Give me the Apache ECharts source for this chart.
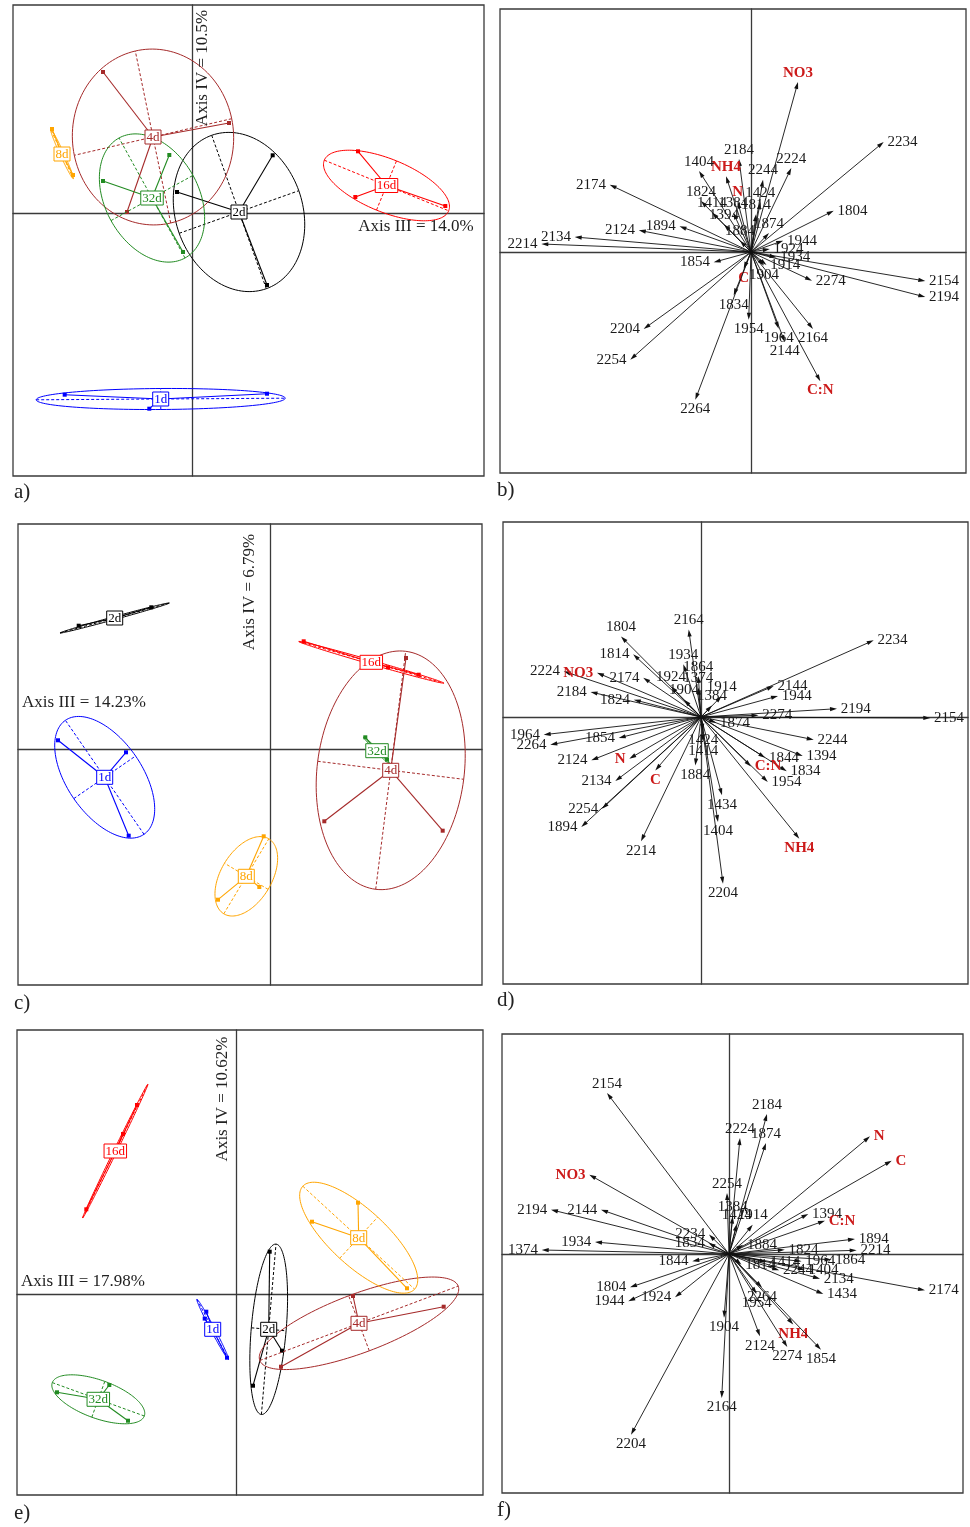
<!DOCTYPE html>
<html><head><meta charset="utf-8">
<script src="https://cdn.jsdelivr.net/npm/echarts@6/dist/echarts.min.js"></script>
<style>html,body{margin:0;padding:0;background:#fff}#c{width:970px;height:1527px}</style>
</head><body><div id="c"></div>
<script>
const FONT = '"Liberation Serif","Times New Roman","DejaVu Serif",serif';
const GROUPS = ['1d','2d','4d','8d','16d','32d'];
const GROUP_COLORS = ['#0000ff','#000000','#a52a2a','#ffa500','#ff0000','#228b22'];
const VARS = ['NO3','NH4','N','C','C:N'];

// ---------- panel a (groups: 1d,2d,4d,8d,16d,32d) ----------
const a_center = [[-31.3,-186],[47,1],[-39,76],[-130,59],[194.5,27.5],[-40,15]];
const a_points = [
  [[-127.3,-181.7],[75,-180.7],[-42.7,-195.7]],
  [[80.7,57.7],[-15,21],[75,-72]],
  [[-89,141],[37,90],[-65,1]],
  [[-140,84],[-131,60],[-119,38]],
  [[166,61.7],[163.3,16],[253.3,7]],
  [[-22.7,58],[-89,32],[-9,-39]]
];
const a_axisA = [[124.5,0.8],[-27.3,76.7],[-17.7,86],[-11.3,24.7],[62.2,-25.3],[-33,60]];
const a_axisB = [[-0.1,10.5],[59.8,21.3],[-78.7,-18.3],[1.8,0.8],[10,24.6],[41,22.6]];

// ---------- panel c ----------
const c_center = [[-165.3,-28.3],[-155.3,131],[120.7,-21.3],[-23.7,-127.3],[101.3,86.7],[107,-1.7]];
const c_points = [
  [[-212,8.7],[-144,-3.3],[-141.3,-86.7]],
  [[-191.3,123.3],[-118.7,141.7],[-158,130]],
  [[136,91],[54.3,-72.3],[172.7,-81.7]],
  [[-6.3,-87.3],[-52,-150.7],[-10.7,-138]],
  [[33.7,107.7],[118,81.7],[148.7,74.3]],
  [[95.3,11.7],[117,-10.7],[109,-4]]
];
const c_axisA = [[-39.3,57],[54.7,15],[15,119],[22.5,37.5],[72.5,-20.8],[13.3,-13.7]];
const c_axisB = [[30.9,21.3],[-0.4,1.4],[73,-9],[-21.8,13.1],[0.55,1.9],[1,1]];

// ---------- panel e ----------
const e_center = [[-23.3,-35.3],[32.7,-35.3],[123,-29.3],[122.7,56.3],[-120.7,143],[-137.7,-105.3]];
const e_points = [
  [[-29.7,-17.7],[-9,-63.7],[-31.3,-24.6]],
  [[33.7,42.3],[46,-56.7],[17,-91.7]],
  [[117,-2],[207.7,-12.7],[45,-72.7]],
  [[122,91.3],[76,72.3],[171,5.7]],
  [[-149.7,84.7],[-113,160],[-99,189]],
  [[-179,-98.3],[-126.7,-91],[-108,-126.7]]
];
const e_axisA = [[15.8,-30],[7.3,85.2],[99.2,37.2],[55.9,-51.5],[32.7,67],[46,-16.7]];
const e_axisB = [[1.8,0.9],[17.4,-1.5],[-10.3,27.5],[19,20.6],[-1.4,0.7],[6.5,17.9]];

// ---------- panel b arrows ----------
const b_names = ['NO3','2234','2224','2244','2184','NH4','1404','2174','1824','N','1424','1414','1394','1384','1814','1874','1884','1804','1944','1924','1934','1914','1904','2274','2154','2194','2164','C:N','2144','1964','1954','1834','C','1854','2204','2254','2264','2214','2134','2124','1894'];
const b_tips = [[47,170],[132.7,110],[40.3,84],[12,72.3],[-12,93],[-25,75.7],[-52,81],[-141.3,67.3],[-50,51],[-13.3,50.4],[9.3,49.7],[-39,39.5],[-27,27.5],[-17.7,39.4],[5,37.7],[18,19],[-11,11.2],[82.7,41.3],[32.2,11.3],[18.8,3],[25.5,-5.3],[15.5,-13],[13,-13.5],[61,-28.7],[174.3,-29],[174.3,-45],[62,-77],[69.3,-129.3],[33.7,-90],[27.7,-76.7],[-2.3,-67.7],[-17.3,-43.4],[-7.3,-16.7],[-37.3,-10.3],[-107.3,-77],[-120.7,-107.7],[-55.7,-147.7],[-209.7,8],[-176.3,15],[-112.2,21.7],[-71.5,25.7]];

// ---------- panel d arrows ----------
const d_names = ['2234','2154','2194','2144','1944','2274','1874','2244','1394','1844','1834','1954','C:N','NH4','1434','1404','2204','1424','1414','1884','2214','C','N','2134','2254','1894','2124','1854','2264','1964','1824','2184','2174','2224','NO3','1814','1804','2164','1934','1864','1924','1374','1904','1914','1384'];
const d_tips = [[172.7,76.7],[229.3,-1],[136,8.3],[72.7,31],[77,21],[57.5,1.7],[15.2,-5.7],[112.7,-22.7],[101.7,-39],[64.2,-40.7],[85.8,-54.3],[66.8,-65],[50,-49.5],[98.3,-121.7],[21,-78.3],[17,-105],[22,-166.7],[2.3,-13.7],[2.3,-24.7],[-5.7,-48.4],[-60,-124.3],[-45.7,-53.4],[-71.7,-41.7],[-85.7,-64],[-99,-91.7],[-119.7,-110],[-109.7,-43.3],[-82.3,-21],[-150.7,-27.7],[-157.3,-17.7],[-67.2,17.3],[-110.5,25],[-57.8,39.3],[-137.3,45.7],[-104,44.3],[-67.8,62.7],[-80,80.5],[-12.3,87.4],[-17.7,52.7],[-2.7,41],[-30,30.5],[-2.7,29.4],[-17,17.3],[20.7,21],[11,11.5]];

// ---------- panel f arrows ----------
const f_names = ['2154','2184','2224','1874','N','C','NO3','2194','2144','1374','1934','2234','1834','2254','1384','1424','1914','1394','C:N','1894','2214','1884','1824','1864','1964','1414','1814','2244','1404','2134','1434','2174','2264','1954','NH4','1854','2274','2124','1904','2164','2204','1924','1944','1804','1844'];
const f_tips = [[-122,161],[38,140],[11,116],[37,111],[141,117.7],[162.7,93.3],[-139.7,79.3],[-178,44.3],[-128,44.3],[-187.3,4],[-134,12],[-20,19.5],[-20.5,11],[-2,61],[3.7,37.4],[7.7,30],[23.7,29.3],[79.3,40],[96,33.3],[126,15],[127.7,3.7],[14.2,9.3],[55.8,4.3],[102.5,-5.7],[72.5,-7.3],[37.5,-8],[12.5,-10.7],[50.2,-16.3],[75.8,-15.7],[91,-24.7],[94.3,-40],[196,-36.3],[33,-33.5],[27.7,-39.7],[64.3,-70.4],[92,-95.7],[58.3,-93],[31,-82.3],[-5,-63.7],[-7.3,-144],[-98,-180.7],[-54,-43.3],[-100.7,-47.3],[-99,-33.3],[-36.7,-7.3]];

// ---------- axis titles and panel letters ----------
const PANEL_LETTERS = ['a)','b)','c)','d)','e)','f)'];
const AXIS_III = ['Axis III = 14.0%','Axis III = 14.23%','Axis III = 17.98%'];
const AXIS_IV = ['Axis IV = 10.5%','Axis IV = 6.79%','Axis IV = 10.62%'];

// layout: grid boxes (pixels) and data ranges
const LAYOUT = [
  {left:13, top:5,   w:471, h:471, xmin:-179, xmax:292, ymin:-263, ymax:208},
  {left:500,top:9,   w:466, h:464, xmin:-251, xmax:215, ymin:-221, ymax:243},
  {left:18, top:524, w:464, h:461, xmin:-252, xmax:212, ymin:-236, ymax:225},
  {left:503,top:522, w:465, h:462, xmin:-198, xmax:267, ymin:-267, ymax:195},
  {left:17, top:1030,w:466, h:465, xmin:-219, xmax:247, ymin:-201, ymax:264},
  {left:502,top:1034,w:461, h:459, xmin:-227, xmax:234, ymin:-239, ymax:220}
];

const ctx = document.createElement('canvas').getContext('2d');
function tw(text, font){ ctx.font = font; return ctx.measureText(text).width; }

const AX_COL = '#3a3a3a';
const grids = [], xAxes = [], yAxes = [];
LAYOUT.forEach((L,i)=>{
  grids.push({left:L.left, top:L.top, width:L.w, height:L.h, show:true, borderColor:AX_COL, borderWidth:1.3, backgroundColor:'transparent'});
  const axBase = {type:'value', gridIndex:i, axisTick:{show:false}, axisLabel:{show:false}, splitLine:{show:false},
    axisLine:{show:true, onZero:true, lineStyle:{color:AX_COL, width:1.3}}};
  xAxes.push(Object.assign({}, axBase, {min:L.xmin, max:L.xmax}));
  yAxes.push(Object.assign({}, axBase, {min:L.ymin, max:L.ymax}));
});

function groupSeries(gi, center, points, axA, axB){
  const geo = {
    type:'custom', xAxisIndex:gi, yAxisIndex:gi, silent:true, z:2, animation:false,
    data: center.map((c,i)=>[c[0],c[1],i]),
    renderItem(params, api){
      const i = params.dataIndex, col = GROUP_COLORS[i];
      const c = center[i], A = axA[i], B = axB[i];
      const ch = [];
      const ell = [];
      for (let k=0;k<=144;k++){
        const t = 2*Math.PI*k/144;
        ell.push(api.coord([c[0]+A[0]*Math.cos(t)+B[0]*Math.sin(t), c[1]+A[1]*Math.cos(t)+B[1]*Math.sin(t)]));
      }
      ch.push({type:'polyline', shape:{points:ell}, style:{stroke:col, fill:null, lineWidth:1}});
      [A,B].forEach(v=>{
        const p1 = api.coord([c[0]-v[0], c[1]-v[1]]), p2 = api.coord([c[0]+v[0], c[1]+v[1]]);
        ch.push({type:'line', shape:{x1:p1[0],y1:p1[1],x2:p2[0],y2:p2[1]}, style:{stroke:col, lineWidth:1, lineDash:[3,2]}});
      });
      const pc = api.coord(c);
      points[i].forEach(p=>{
        const q = api.coord(p);
        ch.push({type:'line', shape:{x1:pc[0],y1:pc[1],x2:q[0],y2:q[1]}, style:{stroke:col, lineWidth:1.1}});
        ch.push({type:'rect', shape:{x:q[0]-2,y:q[1]-2,width:4,height:4}, style:{fill:col}});
      });
      return {type:'group', children:ch};
    }
  };
  const lab = {
    type:'custom', xAxisIndex:gi, yAxisIndex:gi, silent:true, z:5, animation:false,
    data: center.map((c,i)=>[c[0],c[1],i]),
    renderItem(params, api){
      const i = params.dataIndex, col = GROUP_COLORS[i];
      const p = api.coord(center[i]);
      const font = '13px ' + FONT;
      const w = tw(GROUPS[i], font) + 3, h = 14;
      return {type:'group', children:[
        {type:'rect', shape:{x:p[0]-w/2, y:p[1]-h/2, width:w, height:h}, style:{fill:'#fff', stroke:col, lineWidth:1}},
        {type:'text', style:{text:GROUPS[i], x:p[0], y:p[1]+0.5, fill:col, font:font, align:'center', verticalAlign:'middle', textAlign:'center', textVerticalAlign:'middle'}}
      ]};
    }
  };
  return [geo, lab];
}

function arrowSeries(gi, names, tips){
  return {
    type:'custom', xAxisIndex:gi, yAxisIndex:gi, silent:true, z:3, animation:false,
    data: tips.map((t,i)=>[t[0],t[1],i]),
    renderItem(params, api){
      const i = params.dataIndex, t = tips[i], name = names[i];
      const o = api.coord([0,0]), p = api.coord(t);
      const dx = p[0]-o[0], dy = p[1]-o[1], len = Math.hypot(dx,dy) || 1;
      const ux = dx/len, uy = dy/len, nx = -uy, ny = ux;
      const hl = 7, hw = 2.1;
      const bx = p[0]-ux*hl, by = p[1]-uy*hl;
      const isVar = VARS.indexOf(name) >= 0;
      const font = (isVar ? 'bold 15px ' : '15px ') + FONT;
      const w = tw(' ' + name + ' ', font), yh = 9.3;
      const x = t[0], y = t[1];
      let lx = p[0], ly = p[1];
      if (x > y && x > -y) lx = p[0] + w/2;
      else if (x > y && x <= -y) ly = p[1] + yh;
      else if (x <= y && x <= -y) lx = p[0] - w/2;
      else ly = p[1] - yh;
      return {type:'group', children:[
        {type:'line', shape:{x1:o[0],y1:o[1],x2:bx+ux*2,y2:by+uy*2}, style:{stroke:'#111', lineWidth:0.9}},
        {type:'polygon', shape:{points:[[p[0],p[1]],[bx+nx*hw,by+ny*hw],[bx-nx*hw,by-ny*hw]]}, style:{fill:'#111'}},
        {type:'text', style:{text:name, x:lx, y:ly, fill: isVar ? '#cc1a1a' : '#1a1a1a', font:font, align:'center', verticalAlign:'middle', textAlign:'center', textVerticalAlign:'middle'}}
      ]};
    }
  };
}

const series = [].concat(
  groupSeries(0, a_center, a_points, a_axisA, a_axisB),
  [arrowSeries(1, b_names, b_tips)],
  groupSeries(2, c_center, c_points, c_axisA, c_axisB),
  [arrowSeries(3, d_names, d_tips)],
  groupSeries(4, e_center, e_points, e_axisA, e_axisB),
  [arrowSeries(5, f_names, f_tips)]
);

function txt(text, x, y, size, rot, align){
  return {type:'text', x:x, y:y, rotation:rot||0, z:10, silent:true,
    style:{text:text, x:0, y:0, fill:'#222', font:size+'px '+FONT,
      align:align||'center', verticalAlign:'middle', textAlign:align||'center', textVerticalAlign:'middle'}};
}
const LETTER_POS = [[14,492],[497,490],[14,1003],[497,1000],[14,1513],[497,1510]];
const graphics = PANEL_LETTERS.map((t,i)=>txt(t, LETTER_POS[i][0], LETTER_POS[i][1], 21, 0, 'left'));
const IV_POS = [[203,68],[250,592],[223,1099]];
const III_POS = [[416,227],[84,703],[83,1282]];
AXIS_IV.forEach((t,i)=>graphics.push(txt(t, IV_POS[i][0], IV_POS[i][1], 17, Math.PI/2)));
AXIS_III.forEach((t,i)=>graphics.push(txt(t, III_POS[i][0], III_POS[i][1], 17, 0)));

const chart = echarts.init(document.getElementById('c'), null, {renderer:'canvas'});
chart.setOption({
  animation:false, backgroundColor:'#fff',
  grid:grids, xAxis:xAxes, yAxis:yAxes, series:series, graphic:graphics
});
</script></body></html>
